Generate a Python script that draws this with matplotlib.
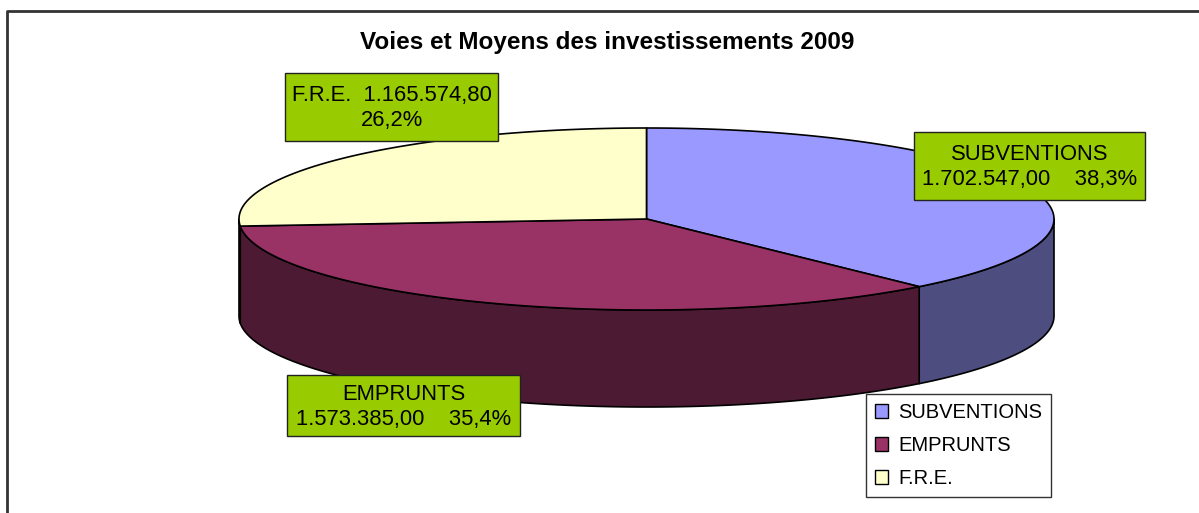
"""3D-style pie: Voies et Moyens des investissements 2009."""

import numpy as np
import matplotlib.pyplot as plt
from matplotlib.patches import Polygon, Rectangle, Patch

plt.rcParams["font.family"] = ["Liberation Sans", "DejaVu Sans"]

# --- data ---
categories = ["SUBVENTIONS", "EMPRUNTS", "F.R.E."]
values = [1702547.00, 1573385.00, 1165574.80]
top_colors = ["#9999FF", "#993366", "#FFFFCC"]
side_colors = ["#4D4D80", "#4D1A33", "#80806A"]
title = "Voies et Moyens des investissements 2009"

W, H = 1199, 513
cx, cy, rx, ry, depth = 646.5, 219, 407.5, 91, 97


def fmt_money(v):
    s = f"{v:,.2f}"
    return s.replace(",", "X").replace(".", ",").replace("X", ".")


def fmt_pct(p):
    return f"{p * 100:.1f}%".replace(".", ",")


def pt(theta_deg, dy=0.0):
    t = np.radians(theta_deg)
    return cx + rx * np.cos(t), cy - ry * np.sin(t) + dy


def arc(a, b, n=200, dy=0.0):
    th = np.linspace(a, b, n)
    xs, ys = pt(th, dy)
    return np.column_stack([xs, ys])


fig = plt.figure(figsize=(W / 100, H / 100), dpi=100)
ax = fig.add_axes([0, 0, 1, 1])
ax.set_xlim(0, W)
ax.set_ylim(H, 0)
ax.axis("off")

# chart frame (only left and top edges fall inside the picture)
ax.plot([7, 7, W + 5], [H + 5, 11, 11], color="#333333", lw=2, solid_capstyle="butt")

total = sum(values)
fracs = [v / total for v in values]
# start at 12 o'clock, clockwise
bounds = [90.0]
for f in fracs:
    bounds.append(bounds[-1] - f * 360)

# sides (front half only: angles between -180 and 0)
for i in range(len(values)):
    a, b = bounds[i], bounds[i + 1]
    lo, hi = max(min(a, b), -180), min(max(a, b), 0)
    if hi <= lo:
        continue
    top = arc(hi, lo)
    bot = arc(lo, hi, dy=depth)
    ax.add_patch(Polygon(np.vstack([top, bot]), closed=True,
                         facecolor=side_colors[i], edgecolor="black", lw=1.2,
                         joinstyle="round"))

# top faces
for i in range(len(values)):
    a, b = bounds[i], bounds[i + 1]
    poly = np.vstack([[cx, cy], arc(a, b)])
    ax.add_patch(Polygon(poly, closed=True, facecolor=top_colors[i],
                         edgecolor="black", lw=1.2, joinstyle="round"))

# data labels
label_boxes = {
    0: (914, 132, 231, 68),
    1: (287, 375, 233, 61),
    2: (285, 73, 213, 68),
}
label_texts = [
    f"{categories[0]}\n{fmt_money(values[0])}    {fmt_pct(fracs[0])}",
    f"{categories[1]}\n{fmt_money(values[1])}    {fmt_pct(fracs[1])}",
    f"{categories[2]}  {fmt_money(values[2])}\n{fmt_pct(fracs[2])}",
]
for i, (x0, y0, w, h) in label_boxes.items():
    ax.add_patch(Rectangle((x0, y0), w, h, facecolor="#99CC00",
                           edgecolor="#222222", lw=1))
    ax.text(x0 + w / 2, y0 + h / 2 + 1, label_texts[i], ha="center", va="center",
            fontsize=15.8, linespacing=1.25, multialignment="center")

ax.text(W / 2 + 8, 42, title, ha="center", va="center",
        fontsize=17.5, fontweight="bold")

handles = [Patch(facecolor=c, edgecolor="black", lw=1) for c in top_colors]
fig.legend(handles, categories, loc="upper left",
           bbox_to_anchor=(866 / W, 1 - 394 / H), fontsize=14.5,
           frameon=True, fancybox=False, edgecolor="black",
           handlelength=0.65, handleheight=0.65, handletextpad=0.5,
           labelspacing=0.7, borderpad=0.45, borderaxespad=0)

fig.savefig("out.png", dpi=100)
